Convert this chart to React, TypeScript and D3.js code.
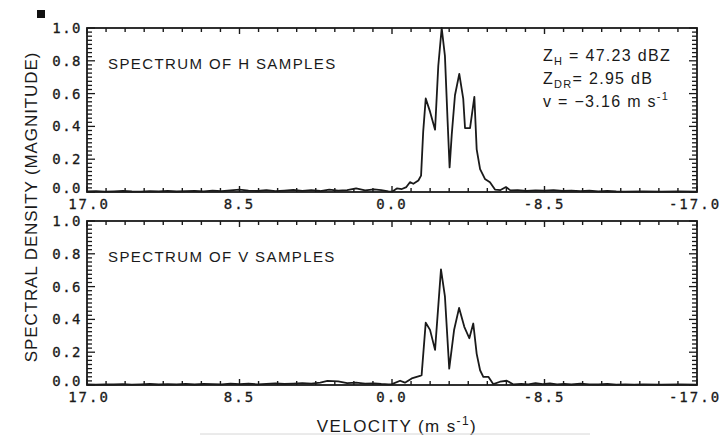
import React, { useEffect, useRef } from 'react';
import * as d3 from 'd3';

// H samples spectrum (velocity m/s, normalised magnitude)
const velH = [17.0, 16.5, 16.0, 15.5, 15.0, 14.5, 14.0, 13.5, 13.0, 12.5, 12.0, 11.5, 11.0, 10.5, 10.0, 9.5, 9.0, 8.5, 8.0, 7.5, 7.0, 6.5, 6.0, 5.5, 5.0, 4.5, 4.0, 3.5, 3.0, 2.5, 2.0, 1.5, 1.0, 0.6, 0.2, 0.0, -0.27, -0.55, -0.8, -1.0, -1.19, -1.47, -1.62, -1.74, -1.88, -2.12, -2.4, -2.58, -2.77, -2.95, -3.1, -3.21, -3.33, -3.51, -3.75, -3.97, -4.07, -4.35, -4.59, -4.72, -4.91, -5.18, -5.46, -5.74, -6.05, -6.35, -6.6, -7.0, -7.5, -8.0, -8.5, -9.0, -9.5, -10.0, -10.5, -11.0, -11.5, -12.0, -12.5, -13.0, -14.0, -15.0, -16.0, -17.0];
const densH = [0.003, 0.005, 0.002, 0.004, 0.006, 0.003, 0.002, 0.005, 0.004, 0.007, 0.003, 0.005, 0.006, 0.004, 0.008, 0.005, 0.01, 0.014, 0.008, 0.006, 0.012, 0.005, 0.009, 0.013, 0.007, 0.011, 0.006, 0.014, 0.009, 0.012, 0.022, 0.01, 0.016, 0.012, 0.004, 0.002, 0.022, 0.018, 0.03, 0.06, 0.05, 0.07, 0.1, 0.37, 0.57, 0.49, 0.38, 0.77, 1.0, 0.83, 0.43, 0.15, 0.35, 0.59, 0.72, 0.57, 0.39, 0.39, 0.58, 0.26, 0.14, 0.08, 0.06, 0.015, 0.012, 0.03, 0.01, 0.012, 0.006, 0.01, 0.008, 0.012, 0.006, 0.009, 0.005, 0.008, 0.004, 0.006, 0.003, 0.002, 0.003, 0.002, 0.003, 0.002];

// V samples spectrum
const velV = [17.0, 16.5, 16.0, 15.5, 15.0, 14.5, 14.0, 13.5, 13.0, 12.5, 12.0, 11.5, 11.0, 10.5, 10.0, 9.5, 9.0, 8.5, 8.0, 7.5, 7.0, 6.5, 6.0, 5.5, 5.0, 4.5, 4.0, 3.6, 3.0, 2.5, 2.0, 1.5, 1.0, 0.6, 0.2, 0.0, -0.45, -0.72, -1.1, -1.56, -1.65, -1.88, -2.12, -2.4, -2.73, -2.95, -3.19, -3.46, -3.74, -4.03, -4.31, -4.53, -4.72, -4.91, -5.09, -5.37, -5.65, -6.02, -6.4, -6.77, -7.2, -7.6, -8.0, -8.4, -8.8, -9.2, -9.6, -10.0, -10.5, -11.0, -11.5, -12.0, -12.5, -13.0, -13.5, -14.0, -15.0, -16.0, -17.0];
const densV = [0.003, 0.002, 0.004, 0.003, 0.005, 0.002, 0.004, 0.006, 0.003, 0.005, 0.004, 0.007, 0.003, 0.006, 0.005, 0.004, 0.008, 0.005, 0.009, 0.004, 0.007, 0.01, 0.006, 0.009, 0.012, 0.008, 0.015, 0.025, 0.022, 0.012, 0.015, 0.008, 0.01, 0.006, 0.004, 0.005, 0.026, 0.014, 0.04, 0.055, 0.06, 0.38, 0.336, 0.214, 0.705, 0.54, 0.1, 0.335, 0.47, 0.355, 0.285, 0.375, 0.19, 0.09, 0.05, 0.05, 0.005, 0.02, 0.026, 0.003, 0.006, 0.004, 0.012, 0.005, 0.01, 0.004, 0.006, 0.003, 0.008, 0.004, 0.003, 0.006, 0.002, 0.004, 0.002, 0.003, 0.002, 0.003, 0.002];

const xTickValues = [17.0, 8.5, 0.0, -8.5, -17.0];
const xTickLabels = ['17.0', '8.5', '0.0', '-8.5', '-17.0'];
const yTickValues = [0, 0.2, 0.4, 0.6, 0.8, 1.0];
const yTickLabels = ['0.0', '0.2', '0.4', '0.6', '0.8', '1.0'];

const panelTitles = ['SPECTRUM OF H SAMPLES', 'SPECTRUM OF V SAMPLES'];

const W = 722;
const H = 437;
const plotLeft = 87;
const plotRight = 697;
const panelTops = [28, 221];
const panelHeight = 164;

const sans = '"Liberation Sans", Arial, sans-serif';
const mono = '"DejaVu Sans Mono", monospace';
const ink = '#1a1a1a';

export default function App() {
  const ref = useRef<HTMLDivElement>(null);

  useEffect(() => {
    const container = ref.current;
    if (!container) return;
    container.innerHTML = '';

    const svg = d3.select(container)
      .append('svg')
      .attr('width', W)
      .attr('height', H)
      .style('display', 'block')
      .style('background', '#fff');

    const x = d3.scaleLinear().domain([17, -17]).range([plotLeft, plotRight]);

    const series = [
      { vel: velH, dens: densH },
      { vel: velV, dens: densV },
    ];

    series.forEach((s, i) => {
      const top = panelTops[i];
      const y = d3.scaleLinear().domain([0, 1]).range([top + panelHeight, top]);
      const g = svg.append('g');

      // minor + major ticks, all pointing inward
      const xMinor = d3.range(0, 33).map(k => 17 - k * 34 / 32);
      xMinor.forEach(v => {
        const major = xTickValues.some(t => Math.abs(t - v) < 1e-6);
        const len = major ? 6 : 4;
        g.append('line').attr('x1', x(v)).attr('x2', x(v))
          .attr('y1', top).attr('y2', top + len)
          .attr('stroke', ink).attr('stroke-width', 1.4);
        g.append('line').attr('x1', x(v)).attr('x2', x(v))
          .attr('y1', top + panelHeight).attr('y2', top + panelHeight - len)
          .attr('stroke', ink).attr('stroke-width', 1.4);
      });

      const yMinor = d3.range(0, 41).map(k => k * 0.025);
      yMinor.forEach(v => {
        const major = yTickValues.some(t => Math.abs(t - v) < 1e-6);
        const len = major ? 8 : 5;
        g.append('line').attr('x1', plotLeft).attr('x2', plotLeft + len)
          .attr('y1', y(v)).attr('y2', y(v))
          .attr('stroke', ink).attr('stroke-width', 1.3);
        g.append('line').attr('x1', plotRight).attr('x2', plotRight - len)
          .attr('y1', y(v)).attr('y2', y(v))
          .attr('stroke', ink).attr('stroke-width', 1.3);
      });

      g.append('rect')
        .attr('x', plotLeft).attr('y', top)
        .attr('width', plotRight - plotLeft).attr('height', panelHeight)
        .attr('fill', 'none').attr('stroke', ink).attr('stroke-width', 1.8);

      // y tick labels (the 0.0 one sits a little high so it clears 17.0)
      yTickValues.forEach((v, k) => {
        g.append('text')
          .attr('x', 82).attr('y', y(v) + (k === 0 ? 1 : 5))
          .attr('text-anchor', 'end')
          .attr('font-family', mono).attr('font-size', 14)
          .attr('letter-spacing', 1.5)
          .attr('stroke', ink).attr('stroke-width', 0.3)
          .attr('fill', ink)
          .text(yTickLabels[k]);
      });

      // x tick labels
      xTickValues.forEach((v, k) => {
        g.append('text')
          .attr('x', x(v) + (k === 0 ? 2 : k === 4 ? -2 : 0)).attr('y', top + panelHeight + 17)
          .attr('text-anchor', 'middle')
          .attr('font-family', mono).attr('font-size', 14)
          .attr('letter-spacing', 2)
          .attr('stroke', ink).attr('stroke-width', 0.3)
          .attr('fill', ink)
          .text(xTickLabels[k]);
      });

      const line = d3.line<number>()
        .x((_, k) => x(s.vel[k]))
        .y(d => y(d))
        .curve(d3.curveLinear);

      g.append('path')
        .attr('d', line(s.dens))
        .attr('fill', 'none')
        .attr('stroke', ink)
        .attr('stroke-width', 1.8)
        .attr('stroke-linejoin', 'round');

      g.append('text')
        .attr('x', 108).attr('y', top + 41)
        .attr('font-family', sans).attr('font-size', 15)
        .attr('letter-spacing', 1.4)
        .attr('fill', ink)
        .text(panelTitles[i]);
    });

    // annotation block
    const ann = svg.append('g')
      .attr('font-family', sans).attr('font-size', 16)
      .attr('letter-spacing', 1.3).attr('fill', ink);
    const t1 = ann.append('text').attr('x', 543).attr('y', 61);
    t1.append('tspan').text('Z');
    t1.append('tspan').attr('font-size', 11).attr('dy', 4).text('H');
    t1.append('tspan').attr('dy', -4).text(' = 47.23 dBZ');
    const t2 = ann.append('text').attr('x', 543).attr('y', 84);
    t2.append('tspan').text('Z');
    t2.append('tspan').attr('font-size', 11).attr('dy', 4).text('DR');
    t2.append('tspan').attr('dy', -4).text('= 2.95 dB');
    const t3 = ann.append('text').attr('x', 543).attr('y', 107);
    t3.append('tspan').text('v = \u22123.16 m s');
    t3.append('tspan').attr('font-size', 11).attr('dy', -7).text('-1');

    // axis titles
    svg.append('text')
      .attr('transform', 'translate(37,207) rotate(-90)')
      .attr('text-anchor', 'middle')
      .attr('font-family', sans).attr('font-size', 17)
      .attr('letter-spacing', 0.9)
      .attr('fill', ink)
      .text('SPECTRAL DENSITY (MAGNITUDE)');

    const xt = svg.append('text')
      .attr('x', 397).attr('y', 432)
      .attr('text-anchor', 'middle')
      .attr('font-family', sans).attr('font-size', 17)
      .attr('letter-spacing', 1.4)
      .attr('fill', ink);
    xt.append('tspan').text('VELOCITY (m s');
    xt.append('tspan').attr('font-size', 12).attr('dy', -7).text('-1');
    xt.append('tspan').attr('dy', 7).text(')');

    // scan marks
    svg.append('rect').attr('x', 37).attr('y', 10).attr('width', 8).attr('height', 8).attr('fill', '#111');
    svg.append('line').attr('x1', 200).attr('x2', 590).attr('y1', 434).attr('y2', 434)
      .attr('stroke', '#d6d6d6').attr('stroke-width', 1);
  }, []);

  return <div ref={ref} style={{ position: 'absolute', left: 0, top: 0 }} />;
}
